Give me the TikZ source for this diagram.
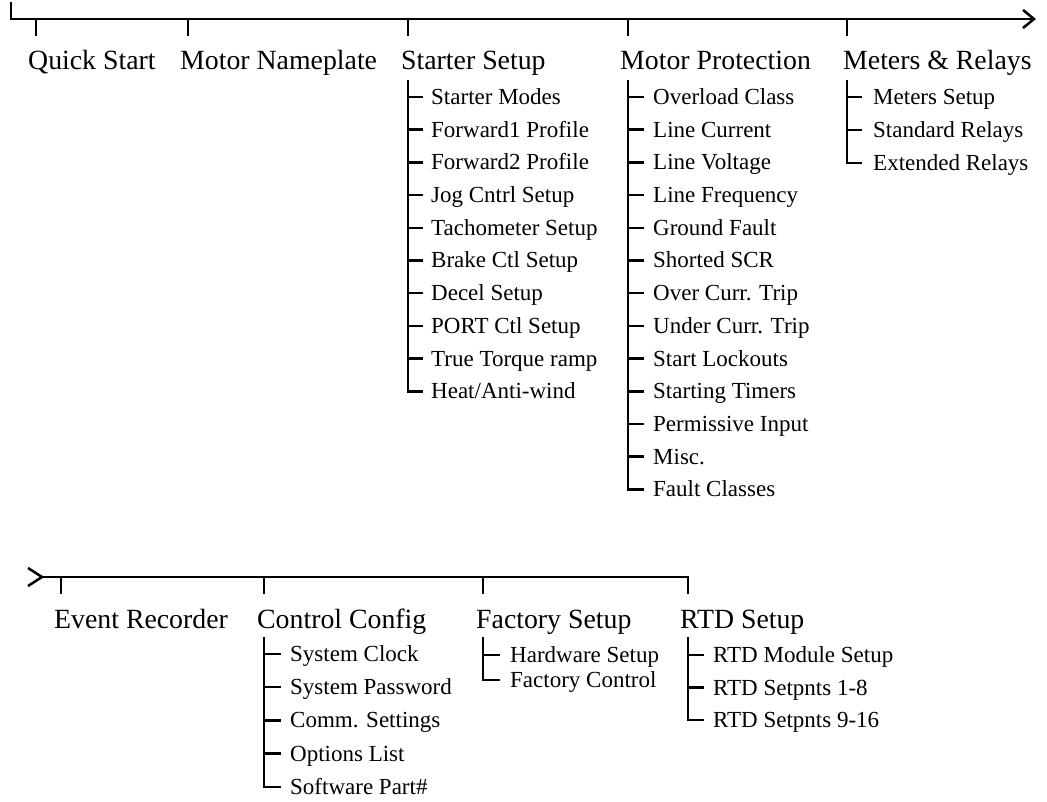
\documentclass[tikz,border=0pt]{standalone}
\usepackage{fontspec}
\setmainfont{Liberation Serif}
\begin{document}
\begin{tikzpicture}[x=1pt,y=-1pt,
  ln/.style={line width=2.5pt,line join=miter},
  mainlbl/.style={anchor=base west,inner sep=0pt,font=\fontsize{27.8}{30}\selectfont},
  sublbl/.style={anchor=base west,inner sep=0pt,font=\fontsize{23}{26}\selectfont}]
\useasboundingbox (0,0) rectangle (1047,802);

% ---------- top bar ----------
\coordinate (tl) at (11,2);
\coordinate (tc) at (11,19);
\coordinate (tr) at (1034,19);
\draw[ln] (tl) -- (tc) -- (tr);
\draw[ln] (1023,10) -- (tr) -- (1023,28);
\foreach \x in {36,188,408,628,847} \draw[ln] (\x,19) -- (\x,36);

\node[mainlbl] (qs) at (28,70) {Quick Start};
\node[mainlbl] (mn) at (180,70) {Motor Nameplate};
\node[mainlbl] (ss) at (401,70) {Starter Setup};
\node[mainlbl] (mp) at (620,70) {Motor Protection};
\node[mainlbl] (mr) at (843,70) {Meters \& Relays};

% Starter Setup
\foreach \t [count=\i] in {Starter Modes,Forward1 Profile,Forward2 Profile,Jog Cntrl Setup,Tachometer Setup,Brake Ctl Setup,Decel Setup,PORT Ctl Setup,True Torque ramp,Heat/Anti-wind}{
  \pgfmathsetmacro\yy{97+(\i-1)*32.7}
  \node[sublbl] (ss\i) at (431,\yy+7.5) {\t};
  \draw[ln] (408,\yy) -- (423,\yy);
}
\draw[ln] (408,80) |- (423,{97+9*32.7});

% Motor Protection
\foreach \t [count=\i] in {Overload Class,Line Current,Line Voltage,Line Frequency,Ground Fault,Shorted SCR,Over Curr. Trip,Under Curr. Trip,Start Lockouts,Starting Timers,Permissive Input,Misc.,Fault Classes}{
  \pgfmathsetmacro\yy{97+(\i-1)*32.7}
  \node[sublbl] (mp\i) at (653,\yy+7.5) {\t};
  \draw[ln] (628,\yy) -- (644,\yy);
}
\draw[ln] (628,80) |- (644,{97+12*32.7});

% Meters & Relays
\foreach \t [count=\i] in {Meters Setup,Standard Relays,Extended Relays}{
  \pgfmathsetmacro\yy{97+(\i-1)*33}
  \node[sublbl] (mr\i) at (873,\yy+7.5) {\t};
  \draw[ln] (847,\yy) -- (862,\yy);
}
\draw[ln] (847,80) |- (862,163);

% ---------- bottom bar ----------
\coordinate (bs) at (42,577);
\coordinate (bc) at (688,577);
\coordinate (be) at (688,594);
\draw[ln] (28,568) -- (bs) -- (28,586);
\draw[ln] (bs) -- (bc) -- (be);
\foreach \x in {61,264,483} \draw[ln] (\x,577) -- (\x,594);

\node[mainlbl] (er) at (54,628) {Event Recorder};
\node[mainlbl] (cc) at (257,628) {Control Config};
\node[mainlbl] (fs) at (476,628) {Factory Setup};
\node[mainlbl] (rs) at (680,628) {RTD Setup};

% Control Config
\foreach \t [count=\i] in {System Clock,System Password,Comm. Settings,Options List,Software Part\#}{
  \pgfmathsetmacro\yy{654+(\i-1)*33.2}
  \node[sublbl] (cc\i) at (290,\yy+7.5) {\t};
  \draw[ln] (264,\yy) -- (281,\yy);
}
\draw[ln] (264,637) |- (281,{654+4*33.2});

% Factory Setup
\node[sublbl] (fs1) at (510,655+7.5) {Hardware Setup};
\node[sublbl] (fs2) at (510,680+7.5) {Factory Control};
\draw[ln] (483,655) -- (500,655);
\draw[ln] (483,637) |- (500,680);

% RTD Setup
\foreach \t [count=\i] in {RTD Module Setup,RTD Setpnts 1-8,RTD Setpnts 9-16}{
  \pgfmathsetmacro\yy{655+(\i-1)*32.5}
  \node[sublbl] (rs\i) at (713,\yy+7.5) {\t};
  \draw[ln] (688,\yy) -- (704,\yy);
}
\draw[ln] (688,637) |- (704,720);
\end{tikzpicture}
\end{document}
